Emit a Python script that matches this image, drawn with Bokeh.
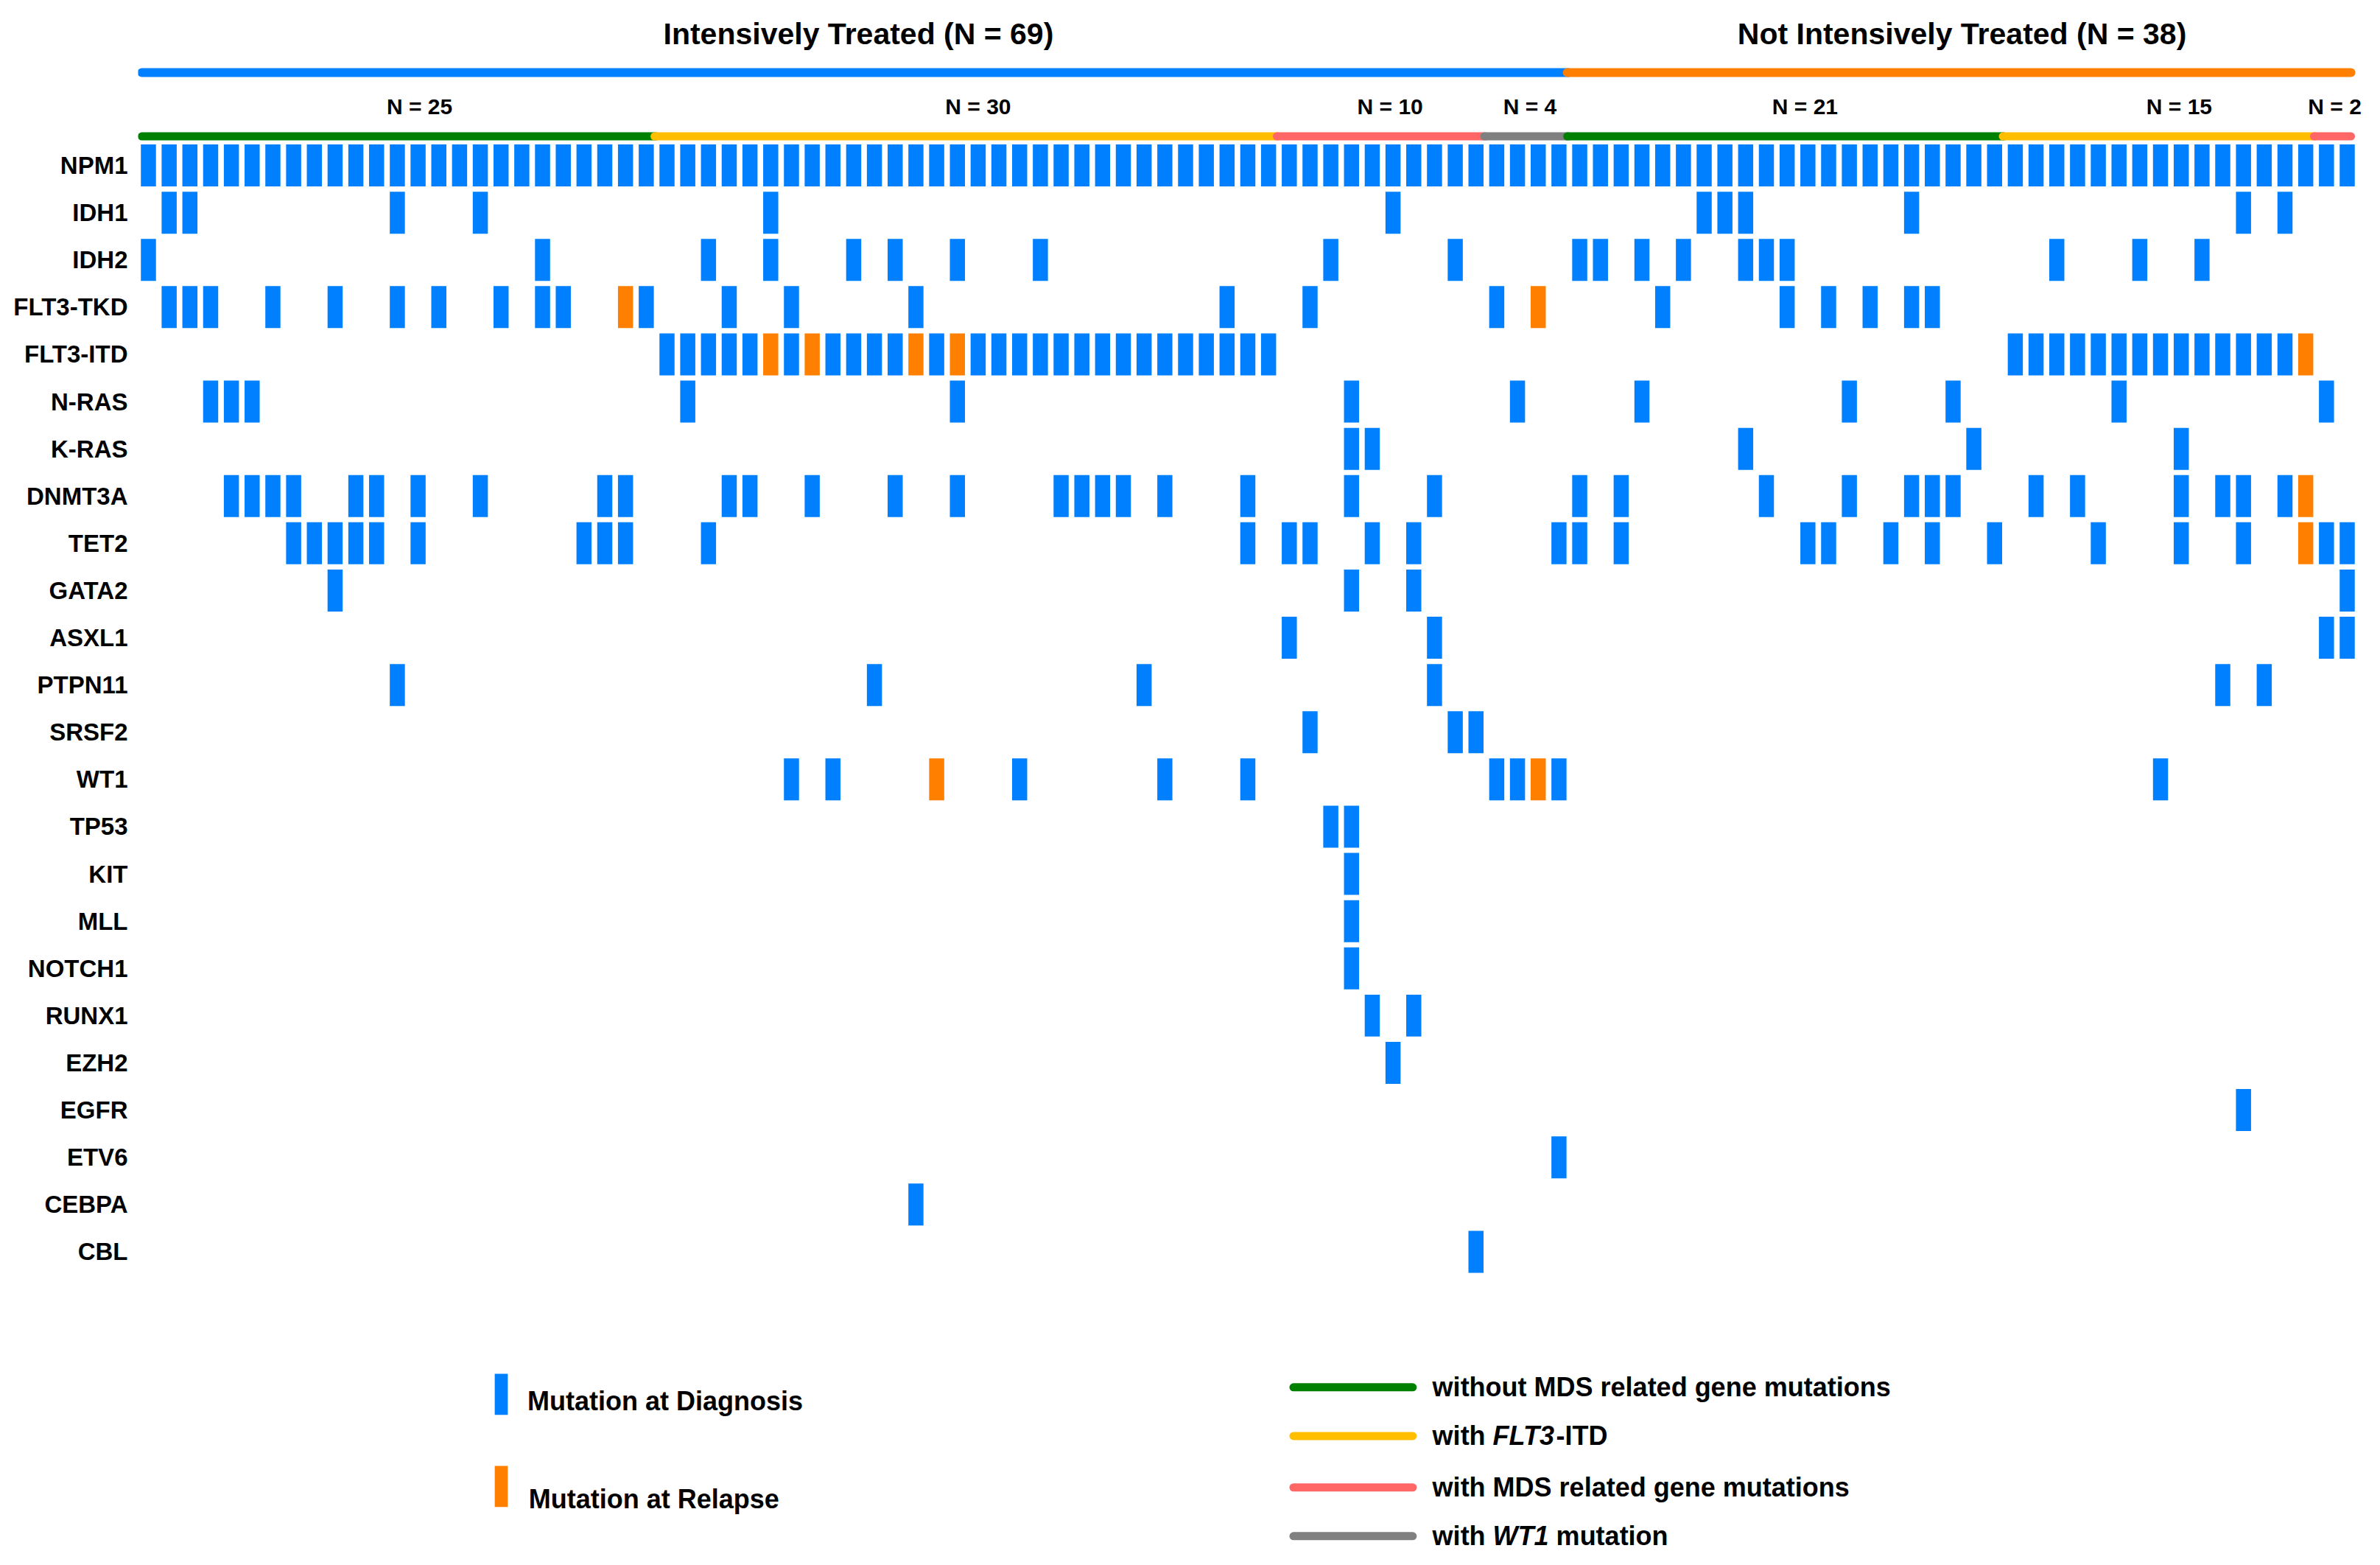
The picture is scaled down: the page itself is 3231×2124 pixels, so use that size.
from bokeh.plotting import figure
from bokeh.models import Range1d, FixedTicker
from bokeh.embed import file_html
from bokeh.resources import INLINE
from bokeh.core.properties import value

# ---------------- data ----------------
genes = ["NPM1", "IDH1", "IDH2", "FLT3-TKD", "FLT3-ITD", "N-RAS", "K-RAS", "DNMT3A",
         "TET2", "GATA2", "ASXL1", "PTPN11", "SRSF2", "WT1", "TP53", "KIT", "MLL",
         "NOTCH1", "RUNX1", "EZH2", "EGFR", "ETV6", "CEBPA", "CBL"]

n_patients = 107

cohort_labels = ["Intensively Treated (N = 69)", "Not Intensively Treated (N = 38)"]
cohort_sizes = [69, 38]
cohort_colors = ["#0080FF", "#FF8000"]

subgroup_labels = ["N = 25", "N = 30", "N = 10", "N = 4", "N = 21", "N = 15", "N = 2"]
subgroup_sizes = [25, 30, 10, 4, 21, 15, 2]
subgroup_kind = ["without MDS", "FLT3-ITD", "MDS", "WT1", "without MDS", "FLT3-ITD", "MDS"]
kind_colors = {"without MDS": "#008000", "FLT3-ITD": "#FFBF00", "MDS": "#FF6666", "WT1": "#808080"}

# patient (column) indices with a mutation detected at diagnosis, per gene
diagnosis_hits = [
    [0, 1, 2, 3, 4, 5, 6, 7, 8, 9, 10, 11, 12, 13, 14, 15, 16, 17, 18, 19, 20, 21, 22, 23, 24,
     25, 26, 27, 28, 29, 30, 31, 32, 33, 34, 35, 36, 37, 38, 39, 40, 41, 42, 43, 44, 45, 46,
     47, 48, 49, 50, 51, 52, 53, 54, 55, 56, 57, 58, 59, 60, 61, 62, 63, 64, 65, 66, 67, 68,
     69, 70, 71, 72, 73, 74, 75, 76, 77, 78, 79, 80, 81, 82, 83, 84, 85, 86, 87, 88, 89, 90,
     91, 92, 93, 94, 95, 96, 97, 98, 99, 100, 101, 102, 103, 104, 105, 106],          # NPM1
    [1, 2, 12, 16, 30, 60, 75, 76, 77, 85, 101, 103],                                  # IDH1
    [0, 19, 27, 30, 34, 36, 39, 43, 57, 63, 69, 70, 72, 74, 77, 78, 79, 92, 96, 99],   # IDH2
    [1, 2, 3, 6, 9, 12, 14, 17, 19, 20, 24, 28, 31, 37, 52, 56, 65, 73, 79, 81, 83, 85, 86],  # FLT3-TKD
    [25, 26, 27, 28, 29, 31, 33, 34, 35, 36, 38, 40, 41, 42, 43, 44, 45, 46, 47, 48, 49, 50,
     51, 52, 53, 54, 90, 91, 92, 93, 94, 95, 96, 97, 98, 99, 100, 101, 102, 103],      # FLT3-ITD
    [3, 4, 5, 26, 39, 58, 66, 72, 82, 87, 95, 105],                                    # N-RAS
    [58, 59, 77, 88, 98],                                                              # K-RAS
    [4, 5, 6, 7, 10, 11, 13, 16, 22, 23, 28, 29, 32, 36, 39, 44, 45, 46, 47, 49, 53, 58, 62,
     69, 71, 78, 82, 85, 86, 87, 91, 93, 98, 100, 101, 103],                           # DNMT3A
    [7, 8, 9, 10, 11, 13, 21, 22, 23, 27, 53, 55, 56, 59, 61, 68, 69, 71, 80, 81, 84, 86, 89,
     94, 98, 101, 105, 106],                                                           # TET2
    [9, 58, 61, 106],                                                                  # GATA2
    [55, 62, 105, 106],                                                                # ASXL1
    [12, 35, 48, 62, 100, 102],                                                        # PTPN11
    [56, 63, 64],                                                                      # SRSF2
    [31, 33, 42, 49, 53, 65, 66, 68, 97],                                              # WT1
    [57, 58],                                                                          # TP53
    [58],                                                                              # KIT
    [58],                                                                              # MLL
    [58],                                                                              # NOTCH1
    [59, 61],                                                                          # RUNX1
    [60],                                                                              # EZH2
    [101],                                                                             # EGFR
    [68],                                                                              # ETV6
    [37],                                                                              # CEBPA
    [64],                                                                              # CBL
]

# patient indices with a mutation detected at relapse, per gene
relapse_hits = [
    [], [], [],
    [23, 67],                 # FLT3-TKD
    [30, 32, 37, 39, 104],    # FLT3-ITD
    [], [],
    [104],                    # DNMT3A
    [104],                    # TET2
    [], [], [], [],
    [38, 67],                 # WT1
    [], [], [], [], [], [], [], [], [], [],
]

legend_marks = ["Mutation at Diagnosis", "Mutation at Relapse"]

DIAG = "#0080FF"
REL = "#FF8000"
FONT = value("Liberation Sans")

# ---------------- figure ----------------
p = figure(width=3215, height=2108, output_backend="svg", toolbar_location=None,
           x_range=Range1d(-0.497, 107.03), y_range=Range1d(29.39, -3.495),
           min_border_left=187, min_border_right=0, min_border_top=0, min_border_bottom=0,
           x_axis_location=None, tools="")
p.title.visible = False
p.outline_line_color = None
p.grid.visible = False
p.background_fill_color = "white"
p.border_fill_color = "white"

ax = p.yaxis[0]
ax.ticker = FixedTicker(ticks=list(range(len(genes))))
ax.major_label_overrides = {i: g for i, g in enumerate(genes)}
ax.axis_line_color = None
ax.major_tick_line_color = None
ax.minor_tick_line_color = None
ax.major_tick_out = 0
ax.major_label_standoff = 14
ax.major_label_text_font = "Liberation Sans"
ax.major_label_text_font_style = "bold"
ax.major_label_text_font_size = "33px"
ax.major_label_text_color = "black"

# mutation blocks
xs, ys, cs = [], [], []
for r, hits in enumerate(diagnosis_hits):
    for c in hits:
        xs.append(c); ys.append(r); cs.append(DIAG)
for r, hits in enumerate(relapse_hits):
    for c in hits:
        xs.append(c); ys.append(r); cs.append(REL)
p.rect(x=xs, y=ys, width=0.728, height=0.889, fill_color=cs, line_color=None)

# cohort lines and titles
start = 0
x0s, x1s, lc = [], [], []
for size, col in zip(cohort_sizes, cohort_colors):
    end = start + size - 1
    x0s.append(-0.32 if start == 0 else start - 0.6)
    x1s.append(106.18 if end == n_patients - 1 else end + 0.45)
    lc.append(col)
    start += size
p.segment(x0=x0s, y0=[-1.966] * len(x0s), x1=x1s, y1=[-1.966] * len(x1s),
          line_color=lc, line_width=12, line_cap="round")
p.text(x=[34.23, 87.43], y=[-2.78, -2.78], text=cohort_labels, text_font=FONT,
       text_font_style="bold", text_font_size="41px", text_align="center",
       text_baseline="middle", text_color="black")

# subgroup lines and labels
start = 0
x0s, x1s, lc = [], [], []
for size, kind in zip(subgroup_sizes, subgroup_kind):
    end = start + size - 1
    x0s.append(-0.32 if start == 0 else start - 0.6)
    x1s.append(106.18 if end == n_patients - 1 else end + 0.45)
    lc.append(kind_colors[kind])
    start += size
p.segment(x0=x0s, y0=[-0.616] * len(x0s), x1=x1s, y1=[-0.616] * len(x1s),
          line_color=lc, line_width=11, line_cap="round")
sub_label_x = [13.07, 40.0, 59.86, 66.6, 79.86, 97.9, 105.4]
p.text(x=sub_label_x, y=[-1.25] * len(sub_label_x), text=subgroup_labels, text_font=FONT,
       text_font_style="bold", text_font_size="30px", text_align="center",
       text_baseline="middle", text_color="black")

# legend: mutation marks
p.rect(x=[17.01, 17.01], y=[26.02, 27.97], width=0.63, height=0.87,
       fill_color=[DIAG, REL], line_color=None)
p.text(x=[18.27, 18.33], y=[26.16, 28.24], text=legend_marks, text_font=FONT,
       text_font_style="bold", text_font_size="36px", text_align="left",
       text_baseline="middle", text_color="black")

# legend: subgroup lines
ly = [25.87, 26.90, 27.99, 29.02]
lcols = [kind_colors["without MDS"], kind_colors["FLT3-ITD"], kind_colors["MDS"], kind_colors["WT1"]]
p.segment(x0=[55.2] * 4, y0=ly, x1=[60.95] * 4, y1=ly, line_color=lcols,
          line_width=11, line_cap="round")
tx = 61.9
up = dict(text_font=FONT, text_font_style="bold", text_font_size="36px",
          text_align="left", text_baseline="middle", text_color="black")
it = dict(up, text_font_style="bold italic")
p.text(x=[tx, tx, tx, tx], y=[ly[0], ly[1], ly[2], ly[3]],
       text=["without MDS related gene mutations", "with", "with MDS related gene mutations", "with"], **up)
p.text(x=[tx, tx], y=[ly[1], ly[3]], text=["FLT3", "WT1"], x_offset=82, **it)
p.text(x=[tx], y=[ly[1]], text=["-ITD"], x_offset=168, **up)
p.text(x=[tx], y=[ly[3]], text=["mutation"], x_offset=168, **up)

open("out.html", "w").write(file_html(p, INLINE))
